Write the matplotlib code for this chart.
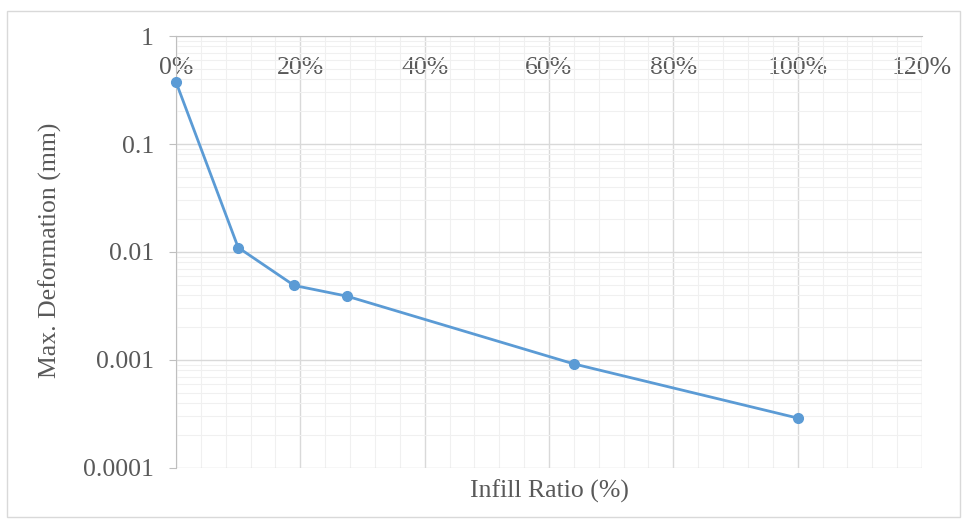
import matplotlib
matplotlib.use("Agg")
import matplotlib.pyplot as plt
from matplotlib.ticker import FixedLocator, LogLocator, NullFormatter
from matplotlib.patches import Rectangle

infill_ratio = [0.0, 0.10, 0.19, 0.275, 0.64, 1.00]
max_deformation = [0.375, 0.011, 0.0049, 0.0039, 0.00092, 0.00029]
x_ticks = [0.0, 0.2, 0.4, 0.6, 0.8, 1.0, 1.2]
x_tick_labels = ["0%", "20%", "40%", "60%", "80%", "100%", "120%"]
y_ticks = [0.0001, 0.001, 0.01, 0.1, 1]
y_tick_labels = ["0.0001", "0.001", "0.01", "0.1", "1"]

plt.rcParams['font.family'] = ['Liberation Serif', 'DejaVu Serif']
text_color = "#595959"
blue = "#5B9BD5"
fs = 18.5

W, H = 967, 523
fig = plt.figure(figsize=(W/100, H/100), dpi=100)
fig.patches.append(Rectangle((7/W, 1-517/H), (960-7)/W, (517-11)/H,
                             transform=fig.transFigure, fill=False,
                             edgecolor="#D9D9D9", linewidth=1.0))
ax = fig.add_axes([176/W, 1-468/H, (922-176)/W, (468-36)/H])

ax.plot(infill_ratio, max_deformation, color=blue, linewidth=2,
        marker="o", markersize=7, zorder=5, clip_on=False)

ax.set_yscale("log")
ax.set_ylim(0.0001, 1)
ax.set_xlim(0, 1.2)

ax.yaxis.set_major_locator(FixedLocator(y_ticks))
ax.set_yticklabels(y_tick_labels)
ax.yaxis.set_minor_locator(LogLocator(base=10, subs=range(2, 10)))
ax.yaxis.set_minor_formatter(NullFormatter())

ax.xaxis.set_major_locator(FixedLocator(x_ticks))
ax.set_xticklabels(x_tick_labels)
ax.xaxis.set_minor_locator(FixedLocator([i*0.04 for i in range(31)]))
ax.xaxis.set_minor_formatter(NullFormatter())

ax.grid(which="major", color="#D9D9D9", linewidth=1.0)
ax.grid(which="minor", color="#F0F0F0", linewidth=0.8)
ax.set_axisbelow(True)

for s in ["right", "bottom"]:
    ax.spines[s].set_visible(False)
ax.spines["left"].set_color("#BFBFBF")
ax.spines["top"].set_color("#BFBFBF")

ax.xaxis.tick_top()
ax.tick_params(axis="x", which="both", length=0, labelsize=fs,
               labelcolor=text_color, pad=-31)
ax.tick_params(axis="y", which="major", length=5, color="#BFBFBF",
               labelsize=fs, labelcolor=text_color, pad=11)
ax.tick_params(axis="y", which="minor", length=0)

fig.text(549/W, 1-491/H, "Infill Ratio (%)", ha="center", va="center",
         fontsize=fs, color=text_color)
fig.text(50/W, 1-250/H, "Max. Deformation (mm)", ha="center", va="center",
         rotation=90, fontsize=fs, color=text_color)

fig.savefig("out.png", dpi=100)
